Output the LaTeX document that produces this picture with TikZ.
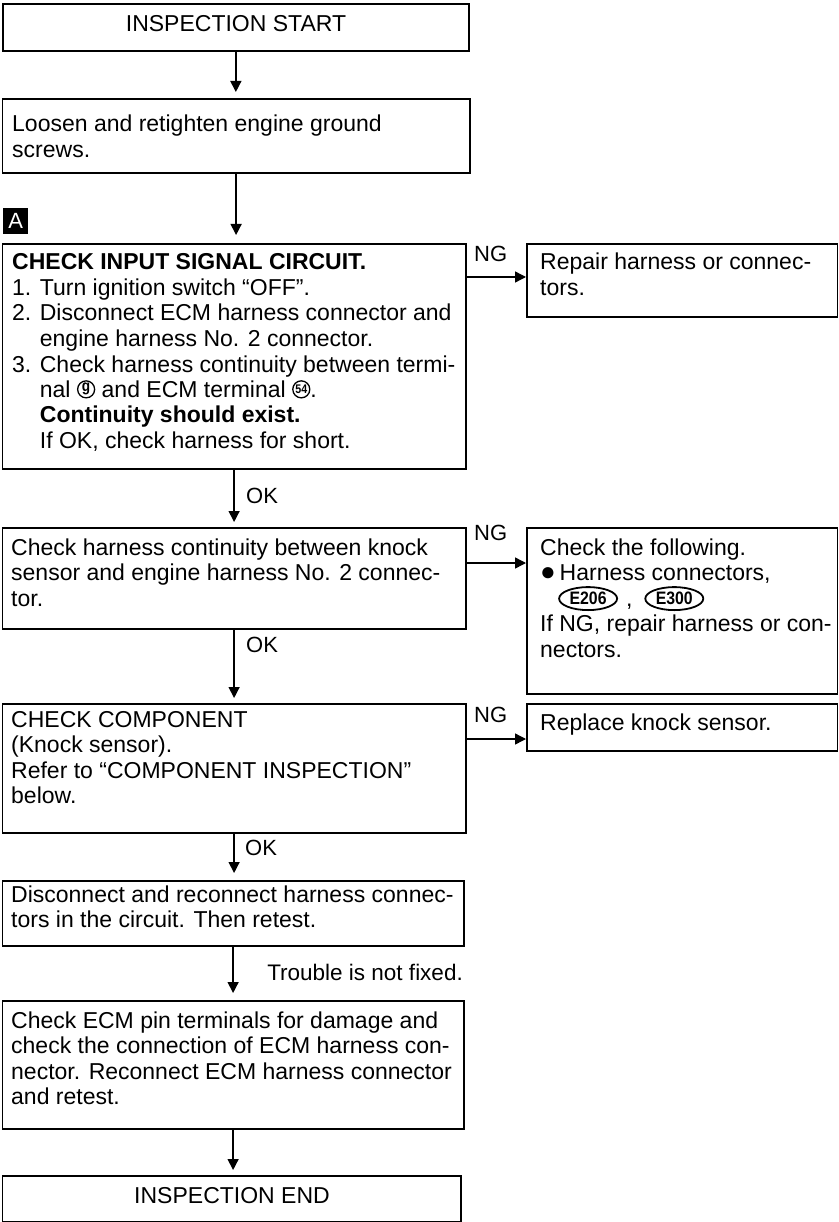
\documentclass[tikz,border=0pt]{standalone}
\usepackage{fontspec}
\setmainfont{Liberation Sans}
\usetikzlibrary{arrows.meta,shapes.geometric}
\newcommand\flowfont{\fontsize{23}{25.5}\selectfont}
\newcommand\flowtext[2]{\parbox[t]{#1}{\raggedright\flowfont #2}}
\newcommand\circledterm[3]{\tikz[x=1cm,y=1cm,baseline={([yshift=1pt]#1.south)}]\node[circle,draw,line width=1.3pt,inner sep=0pt,minimum size=17pt,font=\bfseries\fontsize{#3}{#3}\selectfont](#1){\scalebox{0.85}[1]{#2}};}
\newcommand\connoval[2]{\tikz[x=1cm,y=1cm,baseline={([yshift=5pt]#1.south)}]\node[ellipse,draw,line width=1.8pt,inner sep=0pt,minimum width=58pt,minimum height=23pt,font=\bfseries\fontsize{18}{18}\selectfont](#1){\scalebox{0.88}[1]{#2}};}
\begin{document}
\begin{tikzpicture}[x=1pt,y=-1pt,
  box/.style={draw,line width=1.7pt,inner sep=0pt,anchor=north west},
  txt/.style={inner sep=0pt,anchor=base west},
  ctxt/.style={inner sep=0pt,anchor=base,font=\flowfont},
  arr/.style={line width=1.4pt,-{Triangle[length=11pt,width=11pt]}},
  lbl/.style={inner sep=0pt,anchor=base west,font=\fontsize{22}{22}\selectfont}]
\useasboundingbox (0,0) rectangle (838,1222);
\fill[white] (0,0) rectangle (838,1222);

% left column boxes
\node[box,minimum width=466pt,minimum height=47pt] (b1) at (2,3) {};
\node[box,minimum width=467.5pt,minimum height=74pt] (b2) at (1.5,98) {};
\node[box,minimum width=463.5pt,minimum height=225pt] (b3) at (1.5,243) {};
\node[box,minimum width=463.5pt,minimum height=101pt] (b4) at (1.5,527) {};
\node[box,minimum width=463.5pt,minimum height=129pt] (b5) at (1.5,703) {};
\node[box,minimum width=461.5pt,minimum height=65pt] (b6) at (1.5,880) {};
\node[box,minimum width=461.5pt,minimum height=128pt] (b7) at (1.5,1000) {};
\node[box,minimum width=458.5pt,minimum height=46pt] (b8) at (1.5,1175) {};
% right column boxes
\node[box,minimum width=310.5pt,minimum height=73pt] (r1) at (526,243) {};
\node[box,minimum width=310.5pt,minimum height=166pt] (r2) at (526,527) {};
\node[box,minimum width=310.5pt,minimum height=47pt] (r3) at (526,703) {};

% label A
\node[fill=black,text=white,inner sep=0pt,minimum width=25pt,minimum height=26pt,anchor=north west,font=\fontsize{22}{22}\selectfont] (lA) at (3,208) {A};

% texts
\node[ctxt] (t1) at (236,32) {INSPECTION START};
\node[txt] (t2) at (12,132) {\flowtext{440pt}{Loosen and retighten engine ground\\screws.}};
\node[txt] (t3) at (12,270) {\flowtext{460pt}{\textbf{CHECK INPUT SIGNAL CIRCUIT.}\\
1. Turn ignition switch “OFF”.\\
2. Disconnect ECM harness connector and\\
\phantom{2. }engine harness No. 2 connector.\\
3. Check harness continuity between termi-\\
\phantom{3. }nal \circledterm{cg}{g}{16} and ECM terminal \circledterm{cft}{54}{12.5}.\\
\phantom{3. }\textbf{Continuity should exist.}\\
\phantom{3. }If OK, check harness for short.}};
\node[txt] (t4) at (11,555) {\flowtext{460pt}{Check harness continuity between knock\\sensor and engine harness No. 2 connec-\\tor.}};
\node[txt] (t5) at (11,727) {\flowtext{460pt}{CHECK COMPONENT\\(Knock sensor).\\Refer to “COMPONENT INSPECTION”\\below.}};
\node[txt] (t6) at (11,902) {\flowtext{460pt}{Disconnect and reconnect harness connec-\\tors in the circuit. Then retest.}};
\node[txt] (t7) at (11,1028) {\flowtext{460pt}{Check ECM pin terminals for damage and\\check the connection of ECM harness con-\\nector. Reconnect ECM harness connector\\and retest.}};
\node[ctxt] (t8) at (232,1203) {INSPECTION END};
\node[txt] (tr1) at (540,270) {\flowtext{300pt}{Repair harness or connec-\\tors.}};
\node[txt] (tr2) at (540,555) {\flowtext{300pt}{Check the following.\\{\fontsize{26}{25.5}\selectfont ●}\,Harness connectors,\\\hspace*{18pt}\connoval{ea}{E206}\hspace{8pt},\hspace{12pt}\connoval{eb}{E300}\\If NG, repair harness or con-\\nectors.}};
\node[txt] (tr3) at (540,730) {\flowtext{300pt}{Replace knock sensor.}};

% vertical connectors
\draw[arr,shorten >=6pt] (b1.south) -- (b1.south |- b2.north);
\draw[arr,shorten >=8pt] (b2.south) -- (b2.south |- b3.north);
\draw[arr,shorten >=5pt] (b3.south) -- (b3.south |- b4.north);
\draw[arr,shorten >=5pt] (b4.south) -- (b4.south |- b5.north);
\draw[arr,shorten >=7pt] (b5.south) -- (b5.south |- b6.north);
\draw[arr,shorten >=7pt] (b6.south) -- (b6.south |- b7.north);
\draw[arr,shorten >=5pt] (b7.south) -- (b7.south |- b8.north);

% horizontal connectors
\draw[arr] (b3.east |- 0,277) -- (r1.west |- 0,277);
\draw[arr] (b4.east |- 0,563) -- (r2.west |- 0,563);
\draw[arr] (b5.east |- 0,739) -- (r3.west |- 0,739);

% connector labels
\node[lbl] (ok1) at (246,503) {OK};
\node[lbl] (ok2) at (246,652) {OK};
\node[lbl] (ok3) at (245,855) {OK};
\node[lbl] (ng1) at (474,262) {NG};
\node[lbl] (ng2) at (474,540) {NG};
\node[lbl] (ng3) at (474,722) {NG};
\node[inner sep=0pt,anchor=base east,font=\fontsize{22.5}{22.5}\selectfont] (tnf) at (463,980) {Trouble is not fixed.};
\end{tikzpicture}
\end{document}
